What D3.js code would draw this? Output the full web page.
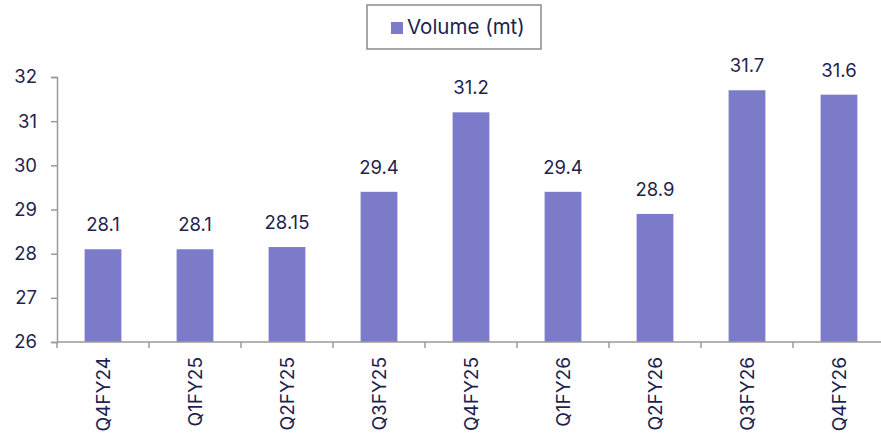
<!DOCTYPE html>
<html>
<head>
    <script src="https://d3js.org/d3.v7.min.js"></script>
    <style>
        body { margin: 0; background: #fff; }
        text { font-family: Inter, "Noto Sans", sans-serif; fill: #1f1f4e; }
        .axis path, .axis line { stroke: #9a9a9a; stroke-width: 1.5px; }
    </style>
</head>
<body>
    <div id="chart"></div>

    <script>
        // Data
        const quarters = ["Q4FY24", "Q1FY25", "Q2FY25", "Q3FY25", "Q4FY25", "Q1FY26", "Q2FY26", "Q3FY26", "Q4FY26"];
        const volume = [28.1, 28.1, 28.15, 29.4, 31.2, 29.4, 28.9, 31.7, 31.6];
        const volumeLabels = ["28.1", "28.1", "28.15", "29.4", "31.2", "29.4", "28.9", "31.7", "31.6"];
        const yTicks = [26, 27, 28, 29, 30, 31, 32];
        const seriesName = "Volume (mt)";

        const width = 881, height = 437;
        const barColor = "#7b7bca";

        const svg = d3.select("#chart")
            .append("svg")
            .attr("width", width)
            .attr("height", height);

        const x = d3.scaleBand()
            .domain(quarters)
            .range([57, 885])
            .paddingInner(0.6)
            .paddingOuter(0.3);

        const y = d3.scaleLinear()
            .domain([26, 32])
            .range([342, 77]);

        // Bars
        svg.selectAll(".bar")
            .data(volume)
            .enter()
            .append("rect")
            .attr("class", "bar")
            .attr("x", (d, i) => x(quarters[i]))
            .attr("y", d => y(d))
            .attr("width", x.bandwidth())
            .attr("height", d => y(26) - y(d))
            .attr("fill", barColor);

        // Value labels
        svg.selectAll(".val")
            .data(volume)
            .enter()
            .append("text")
            .attr("class", "val")
            .attr("x", (d, i) => x(quarters[i]) + x.bandwidth() / 2)
            .attr("y", d => y(d) - 18)
            .attr("text-anchor", "middle")
            .style("font-size", "18.5px")
            .text((d, i) => volumeLabels[i]);

        // Y axis
        const yAxis = svg.append("g")
            .attr("class", "axis")
            .attr("transform", "translate(57,0)")
            .call(d3.axisLeft(y).tickValues(yTicks).tickSize(6).tickPadding(14).tickFormat(d3.format("d")));
        yAxis.selectAll("text").style("font-size", "18.5px").style("fill", "#1f1f4e");

        // X axis with ticks at band boundaries
        const xAxis = svg.append("g")
            .attr("class", "axis")
            .attr("transform", "translate(0,342)");
        xAxis.append("line")
            .attr("x1", 57).attr("x2", 881)
            .attr("y1", 0).attr("y2", 0);
        const step = x.step();
        xAxis.selectAll(".tick")
            .data(d3.range(quarters.length + 1))
            .enter()
            .append("line")
            .attr("x1", i => 57 + i * step)
            .attr("x2", i => 57 + i * step)
            .attr("y1", 0).attr("y2", 6);

        xAxis.selectAll(".lab")
            .data(quarters)
            .enter()
            .append("text")
            .attr("transform", d => `translate(${x(d) + x.bandwidth() / 2},15) rotate(-90)`)
            .attr("text-anchor", "end")
            .attr("dy", "0.35em")
            .style("font-size", "19px")
            .text(d => d);

        // Legend
        const legend = svg.append("g");
        legend.append("rect")
            .attr("x", 367).attr("y", 5)
            .attr("width", 174).attr("height", 44)
            .attr("fill", "#fff")
            .attr("stroke", "#8a8a8a")
            .attr("stroke-width", 1.5);
        legend.append("rect")
            .attr("x", 391).attr("y", 22)
            .attr("width", 12).attr("height", 12)
            .attr("fill", barColor);
        legend.append("text")
            .attr("x", 407).attr("y", 34)
            .style("font-size", "20.5px")
            .text(seriesName);
    </script>
</body>
</html>
